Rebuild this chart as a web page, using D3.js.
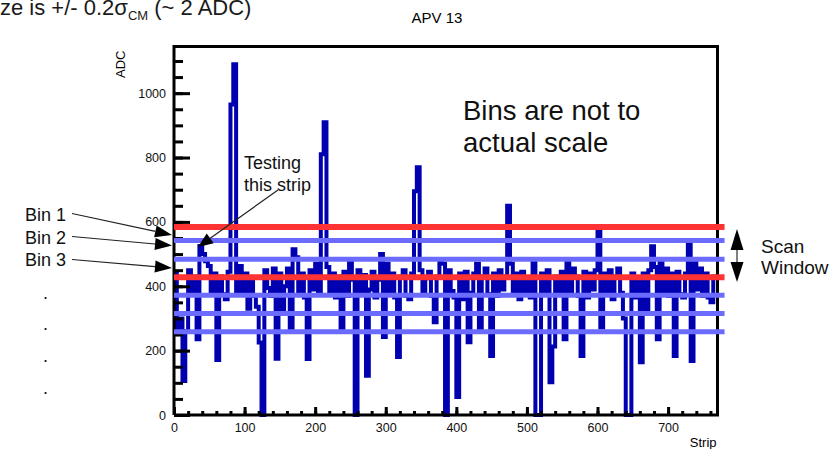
<!DOCTYPE html>
<html>
<head>
<meta charset="utf-8">
<script src="https://cdn.jsdelivr.net/npm/d3@7"></script>
<style>
body { margin: 0; background: #fff; }
text { font-family: "Liberation Sans", Arial, sans-serif; }
</style>
</head>
<body>
<div class="chart-container"></div>
<script>
// ADC per group of 4 strips (APV 13)
const adc = [
    440, 260, 300, 106, 261, 450, 385, 430, 235, 525,
    500, 478, 463, 380, 440, 171, 430, 375, 360, 445,
    965, 1090, 385, 463, 380, 440, 330, 420, 370, 336,
    225, 0, 450, 395, 370, 455, 175, 440, 318, 400,
    455, 266, 515, 490, 380, 440, 365, 174, 450, 390,
    470, 375, 810, 910, 460, 380, 440, 365, 430, 266,
    445, 370, 478, 420, 0, 450, 380, 435, 122, 390,
    445, 365, 420, 500, 242, 470, 375, 440, 365, 180,
    430, 450, 370, 360, 440, 695, 770, 450, 380, 425,
    445, 370, 288, 430, 478, 470, 0, 450, 385, 365,
    56, 440, 360, 445, 226, 380, 440, 470, 270, 430,
    455, 375, 183, 440, 370, 450, 390, 430, 650, 470,
    380, 440, 360, 445, 375, 420, 365, 480, 0, 0,
    440, 380, 450, 102, 213, 430, 375, 445, 235, 478,
    385, 455, 430, 370, 183, 445, 365, 440, 390, 450,
    577, 272, 440, 375, 450, 360, 430, 455, 380, 300,
    0, 0, 440, 365, 420, 164, 440, 320, 450, 524,
    460, 235, 478, 380, 455, 370, 440, 183, 445, 375,
    365, 440, 536, 168, 478, 390, 455, 370, 440, 365,
    350, 430
];
const stripsPerBin = 4;

// Scan window bin edges (ADC)
const binEdges = [584, 542, 484, 428, 372, 315, 259];
const binEdgeKind = ['red', 'blue', 'blue', 'red', 'blue', 'blue', 'blue'];
const binLabels = ['Bin 1', 'Bin 2', 'Bin 3'];

const yTicks = [0, 200, 400, 600, 800, 1000];
const xTicks = [0, 100, 200, 300, 400, 500, 600, 700];

// Frame (pixels)
const frame = { left: 174, right: 717.5, top: 46.5, bottom: 415 };
const W = 836, H = 449;

const x = d3.scaleLinear([0, 770], [frame.left, frame.right]);
const y = d3.scaleLinear([0, 1145], [frame.bottom, frame.top]);

const svg = d3
    .select('.chart-container')
    .append('svg')
    .attr('width', W)
    .attr('height', H);

// Histogram
const pts = adc.map((v, i) => [i * stripsPerBin, v]);
pts.push([adc.length * stripsPerBin, adc[adc.length - 1]]);

const line = d3.line()
    .x(d => x(d[0]))
    .y(d => y(d[1]))
    .curve(d3.curveStepAfter);

svg.append('path')
    .attr('d', line(pts))
    .attr('fill', 'none')
    .attr('stroke', '#0000b0')
    .attr('stroke-width', 4)
    .attr('stroke-linejoin', 'miter');

// Axes, ROOT style ticks inside the frame
function styleAxis(g, size) {
    g.select('.domain').remove();
    g.selectAll('line').attr('stroke', '#000').attr('stroke-width', 3);
    g.attr('font-size', size).attr('font-family', '"Liberation Sans", Arial, sans-serif');
    g.selectAll('text').attr('fill', '#111');
}

svg.append('g')
    .attr('transform', `translate(${frame.left},0)`)
    .call(d3.axisLeft(y).tickValues(d3.range(0, 1145, 50)).tickSize(-9).tickFormat(''))
    .call(g => styleAxis(g, 12.5));

svg.append('g')
    .attr('transform', `translate(${frame.left},0)`)
    .call(d3.axisLeft(y).tickValues(yTicks).tickSize(-16).tickPadding(8).tickFormat(d3.format('d')))
    .call(g => styleAxis(g, 12.5));

svg.append('g')
    .attr('transform', `translate(0,${frame.bottom})`)
    .call(d3.axisBottom(x).tickValues(d3.range(0, 770, 20)).tickSize(-4).tickFormat(''))
    .call(g => styleAxis(g, 12.5));

svg.append('g')
    .attr('transform', `translate(0,${frame.bottom})`)
    .call(d3.axisBottom(x).tickValues(xTicks).tickSize(-8).tickPadding(8).tickFormat(d3.format('d')))
    .call(g => styleAxis(g, 12.5));

// Frame
svg.append('path')
    .attr('d', `M${frame.left},${frame.bottom}V${frame.top}H${frame.right}V${frame.bottom}H${frame.left}`)
    .attr('fill', 'none')
    .attr('stroke', '#000')
    .attr('stroke-width', 3);

// Bin edge lines
svg.selectAll('.bin-edge')
    .data(binEdges)
    .enter()
    .append('line')
    .attr('class', 'bin-edge')
    .attr('x1', x(0))
    .attr('x2', x(780))
    .attr('y1', d => y(d))
    .attr('y2', d => y(d))
    .attr('stroke', (d, i) => binEdgeKind[i] === 'red' ? '#ff3333' : '#6b6bff')
    .attr('stroke-width', (d, i) => binEdgeKind[i] === 'red' ? 6 : 5);

// Titles
svg.append('text')
    .attr('x', 437).attr('y', 23)
    .attr('text-anchor', 'middle')
    .attr('font-size', 15)
    .text('APV 13');

svg.append('text')
    .attr('transform', `translate(125,${frame.top + 4}) rotate(-90)`)
    .attr('text-anchor', 'end')
    .attr('font-size', 13)
    .text('ADC');

svg.append('text')
    .attr('x', frame.right - 1).attr('y', 447)
    .attr('text-anchor', 'end')
    .attr('font-size', 13)
    .text('Strip');

// Top-left note (clipped on the slide)
const note = svg.append('text')
    .attr('x', 0).attr('y', 15)
    .attr('font-size', 22)
    .attr('fill', '#1a1a1a');
note.append('tspan').text('ze is +/- 0.2σ');
note.append('tspan').attr('font-size', 13).attr('dy', 5).text('CM');
note.append('tspan').attr('dy', -5).text(' (~ 2 ADC)');

// Annotations
const big = svg.append('text')
    .attr('font-size', 27.5)
    .attr('fill', '#111');
big.append('tspan').attr('x', 463).attr('y', 119.5).text('Bins are not to');
big.append('tspan').attr('x', 463).attr('y', 151.5).text('actual scale');

const testing = svg.append('text')
    .attr('font-size', 18)
    .attr('fill', '#111');
testing.append('tspan').attr('x', 244).attr('y', 169).text('Testing');
testing.append('tspan').attr('x', 244).attr('y', 191).text('this strip');

const scan = svg.append('text')
    .attr('font-size', 19)
    .attr('fill', '#111');
scan.append('tspan').attr('x', 761).attr('y', 253).text('Scan');
scan.append('tspan').attr('x', 761).attr('y', 274).text('Window');

svg.selectAll('.bin-label')
    .data(binLabels)
    .enter()
    .append('text')
    .attr('class', 'bin-label')
    .attr('x', 25)
    .attr('y', (d, i) => 221 + i * 22.5)
    .attr('font-size', 18)
    .attr('fill', '#111')
    .text(d => d);

svg.selectAll('.dots')
    .data([296, 327, 359, 391])
    .enter()
    .append('text')
    .attr('x', 43)
    .attr('y', d => d + 3)
    .attr('font-size', 18)
    .attr('fill', '#111')
    .text('.');

function arrow(x1, y1, x2, y2, len, wid, color, sw) {
    const a = Math.atan2(y2 - y1, x2 - x1);
    const bx = x2 - len * Math.cos(a), by = y2 - len * Math.sin(a);
    const nx = -Math.sin(a) * wid / 2, ny = Math.cos(a) * wid / 2;
    svg.append('line')
        .attr('x1', x1).attr('y1', y1).attr('x2', bx).attr('y2', by)
        .attr('stroke', color).attr('stroke-width', sw);
    svg.append('path')
        .attr('d', `M${x2},${y2}L${bx + nx},${by + ny}L${bx - nx},${by - ny}Z`)
        .attr('fill', '#000');
}

arrow(72, 213.5, 172, 235, 17, 12, '#222', 1.2);
arrow(72, 236.5, 172, 245.5, 17, 12, '#222', 1.2);
arrow(72, 259.5, 172, 268, 17, 12, '#222', 1.2);
arrow(278, 190, 198, 247, 15, 12, '#222', 1.2);

// Scan window double arrow
arrow(737, 256, 737, 229, 21, 13, '#555', 1.5);
arrow(737, 256, 737, 282, 20, 13, '#555', 1.5);
</script>
</body>
</html>
